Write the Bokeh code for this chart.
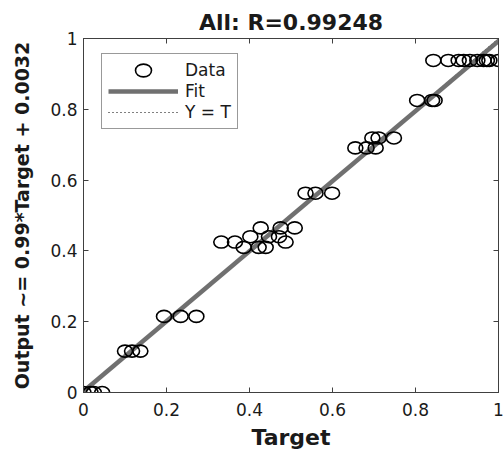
from bokeh.plotting import figure
from bokeh.models import ColumnDataSource, Range1d, LinearAxis, FixedTicker, Legend, LegendItem
from bokeh.embed import file_html
from bokeh.resources import INLINE

# ---- data ----
targets = [0.0, 0.017, 0.025, 0.045,
           0.100, 0.117, 0.137,
           0.194, 0.234, 0.272,
           0.332, 0.365, 0.487,
           0.386, 0.422, 0.439,
           0.402, 0.447, 0.471,
           0.427, 0.475, 0.509,
           0.535, 0.559, 0.599,
           0.655, 0.682, 0.704,
           0.696, 0.711, 0.748,
           0.804, 0.840, 0.846,
           0.843, 0.879, 0.904, 0.916, 0.931, 0.949, 0.964, 0.972, 0.978, 1.0]
outputs = [0.0, 0.0, 0.0, 0.0,
           0.117, 0.117, 0.117,
           0.215, 0.215, 0.215,
           0.425, 0.425, 0.425,
           0.410, 0.410, 0.410,
           0.440, 0.440, 0.440,
           0.465, 0.465, 0.465,
           0.563, 0.563, 0.563,
           0.691, 0.691, 0.691,
           0.719, 0.719, 0.719,
           0.825, 0.825, 0.825,
           0.938, 0.938, 0.938, 0.938, 0.938, 0.938, 0.938, 0.938, 0.938, 0.938]
fit_slope = 0.99
fit_intercept = 0.0032
line_t = [0.0, 1.0]
ticks = [0, 0.2, 0.4, 0.6, 0.8, 1]
tick_labels = ["0", "0.2", "0.4", "0.6", "0.8", "1"]
title_text = "All: R=0.99248"
x_label = "Target"
y_label = "Output ~= 0.99*Target + 0.0032"

FONT = "DejaVu Sans"
AXC = "#404040"

p = figure(width=504, height=456, output_backend="svg", toolbar_location=None,
           x_range=Range1d(0, 1), y_range=Range1d(0, 1),
           min_border_left=83, min_border_right=6, min_border_top=38, min_border_bottom=64)
p.background_fill_color = "white"
p.border_fill_color = "white"
p.outline_line_color = AXC
p.outline_line_width = 1
p.xgrid.visible = False
p.ygrid.visible = False

overrides = {t: l for t, l in zip(ticks, tick_labels)}
for ax in (p.xaxis[0], p.yaxis[0]):
    ax.ticker = FixedTicker(ticks=ticks)
    ax.major_label_overrides = overrides
    ax.major_tick_in = 5
    ax.major_tick_out = 0
    ax.minor_tick_line_color = None
    ax.axis_line_color = AXC
    ax.major_tick_line_color = AXC
    ax.major_label_text_font = FONT
    ax.major_label_text_font_size = "17px"
    ax.major_label_text_color = "#1a1a1a"
    ax.axis_label_text_font = FONT
    ax.axis_label_text_font_style = "bold"
    ax.axis_label_text_color = "#1a1a1a"
p.xaxis[0].axis_label = x_label
p.xaxis[0].axis_label_text_font_size = "22px"
p.xaxis[0].major_label_standoff = 10
p.xaxis[0].axis_label_standoff = 6
p.yaxis[0].axis_label = y_label
p.yaxis[0].axis_label_text_font_size = "19px"
p.yaxis[0].major_label_standoff = 6
p.yaxis[0].axis_label_standoff = 14

for side in ("above", "right"):
    ax = LinearAxis(ticker=FixedTicker(ticks=ticks), major_label_text_font_size="1px",
                    major_label_text_color=None,
                    major_tick_in=5, major_tick_out=0, minor_tick_line_color=None,
                    axis_line_color=AXC, major_tick_line_color=AXC,
                    major_label_standoff=0)
    p.add_layout(ax, side)

p.title.text = title_text
p.title.align = "center"
p.title.text_font = FONT
p.title.text_font_style = "bold"
p.title.text_font_size = "22px"
p.title.text_color = "#1a1a1a"
p.title.standoff = 8

src = ColumnDataSource(data=dict(t=targets, o=outputs))
yt = p.line(x=line_t, y=line_t, line_color="black", line_width=1, line_dash="1 3")
fit_y = [fit_slope * t + fit_intercept for t in line_t]
fit = p.line(x=line_t, y=fit_y, line_color="#707070", line_width=4.5)
data_r = p.ellipse(x="t", y="o", source=src, width=15, height=12,
                   width_units="screen", height_units="screen",
                   fill_color=None, line_color="black", line_width=1.6)

legend = Legend(items=[LegendItem(label="Data", renderers=[data_r]),
                       LegendItem(label="Fit", renderers=[fit]),
                       LegendItem(label="Y = T", renderers=[yt])],
                location=(18, 263))
legend.label_text_font = FONT
legend.label_text_font_size = "17px"
legend.label_text_color = "#1a1a1a"
legend.glyph_width = 70
legend.glyph_height = 20
legend.label_height = 20
legend.label_standoff = 7
legend.spacing = 1
legend.padding = 6
legend.margin = 0
legend.border_line_color = "#333333"
legend.border_line_width = 1
legend.background_fill_color = "white"
legend.background_fill_alpha = 1
p.add_layout(legend, "center")

open("out.html", "w").write(file_html(p, INLINE))
